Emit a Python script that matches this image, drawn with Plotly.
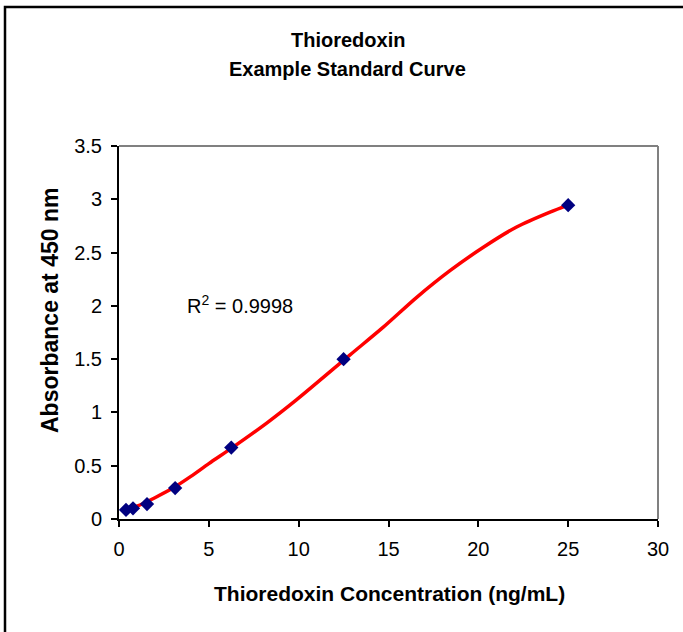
import plotly.graph_objects as go

# Measured standards
conc = [0.39, 0.78, 1.56, 3.125, 6.25, 12.5, 25]
absorb = [0.085, 0.10, 0.14, 0.29, 0.67, 1.50, 2.945]

# Fitted curve
fit_x = [0.33, 1, 2, 3, 4, 5, 6.27, 8.22, 9.89, 12.86, 14.71, 16.57, 18.42, 20.28, 22.13, 23.99, 25]
fit_y = [0.084, 0.12, 0.20, 0.29, 0.40, 0.52, 0.665, 0.90, 1.12, 1.54, 1.80, 2.08, 2.33, 2.55, 2.74, 2.88, 2.946]

x_ticks = [0, 5, 10, 15, 20, 25, 30]
y_ticks = [0, 0.5, 1, 1.5, 2, 2.5, 3, 3.5]
y_tick_text = ["0", "0.5", "1", "1.5", "2", "2.5", "3", "3.5"]

FONT = "Liberation Sans, Arial, sans-serif"
W, H = 683, 632
L, R, T, B = 119, 25, 146, 113
PW, PH = W - L - R, H - T - B

def px(xp):
    return (xp - L) / PW

def py(yp):
    return (H - B - yp) / PH

fig = go.Figure()
fig.add_trace(go.Scatter(x=fit_x, y=fit_y, mode="lines",
                         line=dict(color="#ff0000", width=3.5, shape="spline", smoothing=0.8),
                         hoverinfo="skip", showlegend=False))
fig.add_trace(go.Scatter(x=conc, y=absorb, mode="markers",
                         marker=dict(symbol="diamond", color="#000080", size=11,
                                     line=dict(width=0)),
                         showlegend=False))

fig.update_layout(
    width=W, height=H,
    margin=dict(l=L, r=R, t=T, b=B),
    paper_bgcolor="white", plot_bgcolor="white",
    font=dict(family=FONT, color="black", size=19),
    showlegend=False,
    xaxis=dict(range=[0, 30], tickvals=x_ticks, ticks="outside", ticklen=6,
               tickwidth=2, tickcolor="black", showline=True, linecolor="black",
               linewidth=2, showgrid=False, zeroline=False, ticklabelstandoff=5,
               tickfont=dict(size=20, family=FONT)),
    yaxis=dict(range=[0, 3.5], tickvals=y_ticks, ticktext=y_tick_text,
               ticks="outside", ticklen=6, tickwidth=2, tickcolor="black",
               showline=True, linecolor="black", linewidth=2, showgrid=False,
               zeroline=False, ticklabelstandoff=5, tickfont=dict(size=20, family=FONT)),
    shapes=[
        dict(type="line", xref="paper", yref="paper", x0=0, x1=1, y0=1, y1=1,
             line=dict(color="#808080", width=2)),
        dict(type="line", xref="paper", yref="paper", x0=1, x1=1, y0=0, y1=1,
             line=dict(color="#808080", width=2)),
        dict(type="rect", xref="paper", yref="paper", x0=px(5), x1=px(720),
             y0=py(7), y1=py(700), line=dict(color="black", width=2.5)),
    ],
    annotations=[
        dict(text="<b>Thioredoxin</b>", x=px(348), y=py(40), xref="paper", yref="paper",
             showarrow=False, font=dict(size=20, family=FONT), xanchor="center", yanchor="middle"),
        dict(text="<b>Example Standard Curve</b>", x=px(347), y=py(69), xref="paper", yref="paper",
             showarrow=False, font=dict(size=20, family=FONT), xanchor="center", yanchor="middle"),
        dict(text="<b>Thioredoxin Concentration (ng/mL)</b>", x=px(389), y=py(593),
             xref="paper", yref="paper", showarrow=False,
             font=dict(size=21, family=FONT), xanchor="center", yanchor="middle"),
        dict(text="<b>Absorbance at 450 nm</b>", x=px(50), y=py(311),
             xref="paper", yref="paper", showarrow=False, textangle=-90,
             font=dict(size=23, family=FONT), xanchor="center", yanchor="middle"),
        dict(text="R<sup>2</sup> = 0.9998", x=px(185), y=py(304),
             xref="paper", yref="paper", showarrow=False,
             font=dict(size=20, family=FONT), xanchor="left", yanchor="middle"),
    ],
)

fig.write_html("out.html", config={"displayModeBar": False},
               post_script="document.body.style.margin='0px';document.body.style.padding='0px';")
